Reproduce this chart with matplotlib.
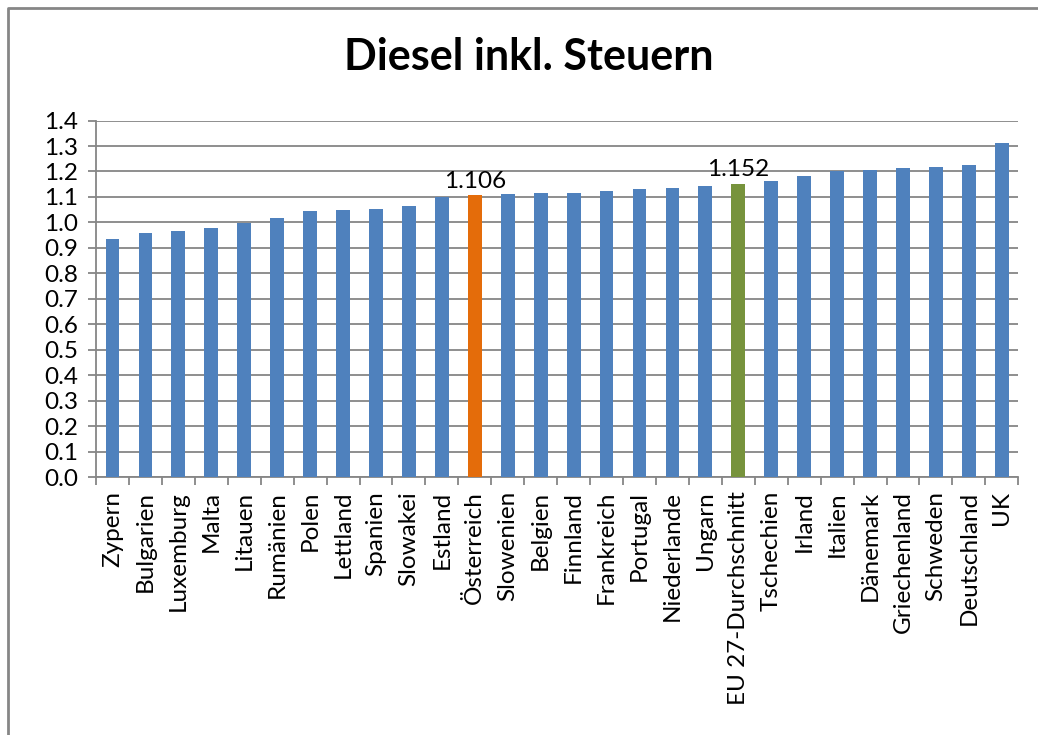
import matplotlib.pyplot as plt
import numpy as np
from matplotlib.lines import Line2D

countries = ["Zypern", "Bulgarien", "Luxemburg", "Malta", "Litauen", "Rumänien",
             "Polen", "Lettland", "Spanien", "Slowakei", "Estland", "Österreich",
             "Slowenien", "Belgien", "Finnland", "Frankreich", "Portugal",
             "Niederlande", "Ungarn", "EU 27-Durchschnitt", "Tschechien", "Irland",
             "Italien", "Dänemark", "Griechenland", "Schweden", "Deutschland", "UK"]
prices = [0.934, 0.957, 0.968, 0.979, 0.997, 1.017,
          1.046, 1.049, 1.054, 1.064, 1.099, 1.106,
          1.112, 1.116, 1.116, 1.124, 1.130,
          1.134, 1.143, 1.152, 1.163, 1.183,
          1.201, 1.205, 1.213, 1.217, 1.226, 1.311]
labelled = ["Österreich", "EU 27-Durchschnitt"]

plt.rcParams['font.family'] = ['Lato', 'DejaVu Sans']

blue = "#4F81BD"
colors = [blue] * len(countries)
colors[countries.index("Österreich")] = "#E46C0A"
colors[countries.index("EU 27-Durchschnitt")] = "#77933C"

fig = plt.figure(figsize=(10.38, 7.35), dpi=100)
ax = fig.add_axes([0.0925, 0.351, 0.8885, 0.485])

x = np.arange(len(countries))
ax.bar(x, prices, width=0.42, color=colors, zorder=3)

for name in labelled:
    i = countries.index(name)
    ax.text(i, prices[i] + 0.014, f"{prices[i]:.3f}", ha="center", va="bottom",
            fontsize=17.5, color="black")

ax.set_xlim(-0.5, len(countries) - 0.5)
ax.set_ylim(0, 1.4)
ax.set_yticks(np.arange(0, 1.41, 0.1))
ax.set_yticklabels([f"{v:.1f}" for v in np.arange(0, 1.41, 0.1)], fontsize=17.5)
ax.set_xticks(x)
ax.set_xticklabels(countries, rotation=90, fontsize=17.5)
ax.set_xticks(np.arange(-0.5, len(countries), 1), minor=True)
ax.tick_params(axis="x", which="major", length=0, pad=10)
ax.tick_params(axis="x", which="minor", length=6, color="#868686", width=1.3)
ax.tick_params(axis="y", length=6, color="#868686", width=1.3, pad=7)

ax.yaxis.grid(True, color="#868686", linewidth=1.3, zorder=0)
ax.set_axisbelow(True)
for s in ["top", "right"]:
    ax.spines[s].set_visible(False)
for s in ["left", "bottom"]:
    ax.spines[s].set_color("#868686")
    ax.spines[s].set_linewidth(1.3)

fig.text(0.509, 0.922, "Diesel inkl. Steuern", ha="center", va="center",
         fontsize=31, fontweight="bold")

# outer chart border (left and top edges visible)
fig.add_artist(Line2D([0.0075, 0.0075, 1.0], [0.0, 0.9895, 0.9895],
                      transform=fig.transFigure, color="#868686", linewidth=2))

plt.savefig("out.png", dpi=100)
